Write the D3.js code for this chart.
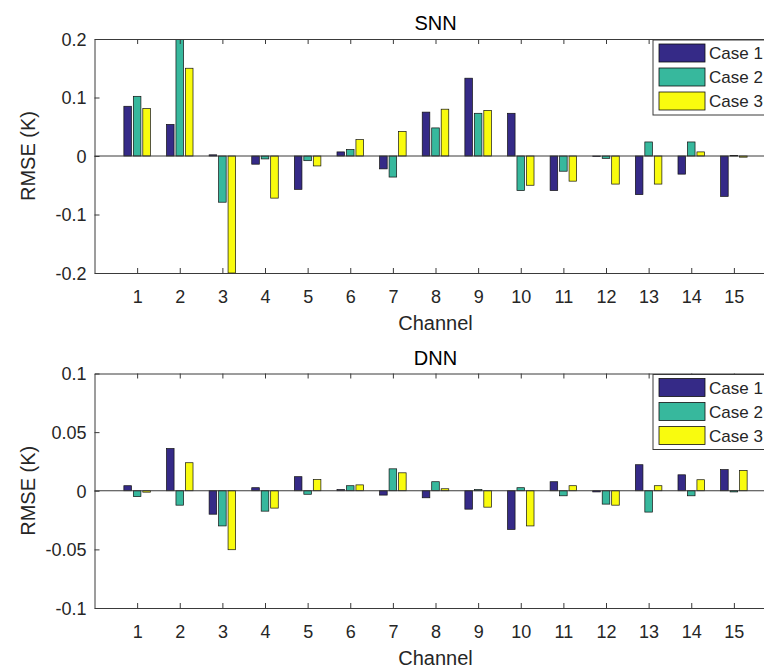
<!DOCTYPE html>
<html>
<head>
<meta charset="utf-8">
<title>SNN / DNN RMSE by channel</title>
<script src="https://cdn.jsdelivr.net/npm/d3@7"></script>
<style>
  body { margin: 0; background: #fff; }
  svg { display: block; }
  text { font-family: "Liberation Sans", Arial, Helvetica, sans-serif; fill: #262626; }
</style>
</head>
<body>
<svg width="764" height="670"></svg>
<script>
// channels 1..15
var channels = d3.range(1, 16);
var caseNames = ["Case 1", "Case 2", "Case 3"];
var caseColors = ["#352a87", "#37b89d", "#f9fb0e"];

// SNN panel values (RMSE difference, K)
var snnCase1 = [0.085, 0.054, 0.002, -0.014, -0.057, 0.007, -0.022, 0.075, 0.133, 0.073, -0.059, -0.001, -0.066, -0.031, -0.069];
var snnCase2 = [0.102, 0.200, -0.079, -0.005, -0.008, 0.011, -0.036, 0.048, 0.073, -0.059, -0.026, -0.004, 0.024, 0.024, 0.001];
var snnCase3 = [0.081, 0.150, -0.200, -0.072, -0.017, 0.028, 0.042, 0.080, 0.078, -0.050, -0.043, -0.048, -0.048, 0.007, -0.002];
var snnTicks = [-0.2, -0.1, 0, 0.1, 0.2];
var snnTickLabels = ["-0.2", "-0.1", "0", "0.1", "0.2"];

// DNN panel values
var dnnCase1 = [0.0043, 0.036, -0.020, 0.0026, 0.012, 0.001, -0.0037, -0.006, -0.0157, -0.033, 0.0077, -0.001, 0.0222, 0.0136, 0.018];
var dnnCase2 = [-0.005, -0.0123, -0.030, -0.0174, -0.003, 0.0043, 0.0187, 0.0077, 0.001, 0.0026, -0.0043, -0.0114, -0.0182, -0.0043, -0.001];
var dnnCase3 = [-0.0012, 0.0239, -0.0503, -0.0148, 0.0096, 0.005, 0.0153, 0.0017, -0.014, -0.030, 0.0043, -0.0123, 0.0043, 0.0094, 0.0173];
var dnnTicks = [-0.1, -0.05, 0, 0.05, 0.1];
var dnnTickLabels = ["-0.1", "-0.05", "0", "0.05", "0.1"];

var svg = d3.select("svg");

var x = d3.scaleLinear().domain([0, 16]).range([94.5, 776.5]);
var barStep = 2 / 9;          // spacing between bars in a group (channel units)
var barW = 0.8 * barStep;     // bar width

function drawPanel(opts) {
  var top = opts.top, bottom = opts.bottom;
  var y = d3.scaleLinear().domain(d3.extent(opts.ticks)).range([bottom, top]);
  var g = svg.append("g");

  var clipId = "clip-" + opts.title;
  g.append("clipPath").attr("id", clipId)
    .append("rect")
      .attr("x", x(0)).attr("y", top)
      .attr("width", x(16) - x(0)).attr("height", bottom - top);

  // box
  g.append("rect")
    .attr("x", x(0)).attr("y", top)
    .attr("width", x(16) - x(0)).attr("height", bottom - top)
    .attr("fill", "#fff");

  var bars = g.append("g").attr("clip-path", "url(#" + clipId + ")");
  opts.series.forEach(function(vals, k) {
    bars.selectAll(null)
      .data(vals)
      .enter().append("rect")
        .attr("x", function(d, i) { return x(channels[i] + (k - 1) * barStep - barW / 2); })
        .attr("width", x(barW) - x(0))
        .attr("y", function(d) { return y(Math.max(0, d)); })
        .attr("height", function(d) { return Math.abs(y(d) - y(0)); })
        .attr("fill", caseColors[k])
        .attr("stroke", "#111")
        .attr("stroke-width", 0.7);
  });

  // baseline at zero
  g.append("line")
    .attr("x1", x(0)).attr("x2", x(16))
    .attr("y1", y(0)).attr("y2", y(0))
    .attr("stroke", "#3a3a3a").attr("stroke-width", 1);

  // axes with inward ticks
  var xb = g.append("g").attr("transform", "translate(0," + bottom + ")")
    .call(d3.axisBottom(x).tickValues(channels).tickSizeInner(-5).tickSizeOuter(0).tickPadding(0));
  xb.selectAll("text").attr("y", 30).attr("dy", 0).attr("font-size", 18);
  var xt = g.append("g").attr("transform", "translate(0," + top + ")")
    .call(d3.axisTop(x).tickValues(channels).tickSizeInner(-5).tickSizeOuter(0).tickFormat(""));
  var yl = g.append("g").attr("transform", "translate(" + x(0) + ",0)")
    .call(d3.axisLeft(y).tickValues(opts.ticks).tickSizeInner(-5).tickSizeOuter(0).tickPadding(8)
      .tickFormat(function(d, i) { return opts.tickLabels[i]; }));
  yl.selectAll("text").attr("font-size", 18).attr("dy", "0.36em");
  [xb, xt, yl].forEach(function(a) {
    a.attr("font-family", null).attr("font-size", null);
    a.selectAll("path, line").attr("stroke", "#3a3a3a");
    a.select(".domain").attr("stroke-width", 1);
  });

  g.append("text")
    .attr("x", (x(0) + x(16)) / 2).attr("y", top - 9)
    .attr("text-anchor", "middle").attr("font-size", 20)
    .style("fill", "#000")
    .text(opts.title);

  g.append("text")
    .attr("x", (x(0) + x(16)) / 2).attr("y", bottom + 57)
    .attr("text-anchor", "middle").attr("font-size", 20)
    .text("Channel");

  g.append("text")
    .attr("transform", "translate(35," + (top + bottom) / 2 + ") rotate(-90)")
    .attr("text-anchor", "middle").attr("font-size", 20)
    .text("RMSE (K)");

  // legend, anchored in the upper right corner
  var lg = g.append("g").attr("transform", "translate(653," + (top + 1) + ")");
  lg.append("rect")
    .attr("x", 0).attr("y", 0).attr("width", 140).attr("height", 75)
    .attr("fill", "#fff").attr("stroke", "#3a3a3a").attr("stroke-width", 1);
  var items = lg.selectAll(".item").data(caseNames).enter().append("g")
    .attr("transform", function(d, i) { return "translate(6," + (4 + i * 24) + ")"; });
  items.append("rect")
    .attr("width", 46).attr("height", 18)
    .attr("fill", function(d, i) { return caseColors[i]; })
    .attr("stroke", "#111").attr("stroke-width", 0.8);
  items.append("text")
    .attr("x", 50).attr("y", 9).attr("dy", "0.36em")
    .attr("font-size", 17)
    .text(function(d) { return d; });
}

drawPanel({ title: "SNN", top: 39, bottom: 273, ticks: snnTicks, tickLabels: snnTickLabels,
            series: [snnCase1, snnCase2, snnCase3] });
drawPanel({ title: "DNN", top: 373.5, bottom: 608, ticks: dnnTicks, tickLabels: dnnTickLabels,
            series: [dnnCase1, dnnCase2, dnnCase3] });
</script>
</body>
</html>
